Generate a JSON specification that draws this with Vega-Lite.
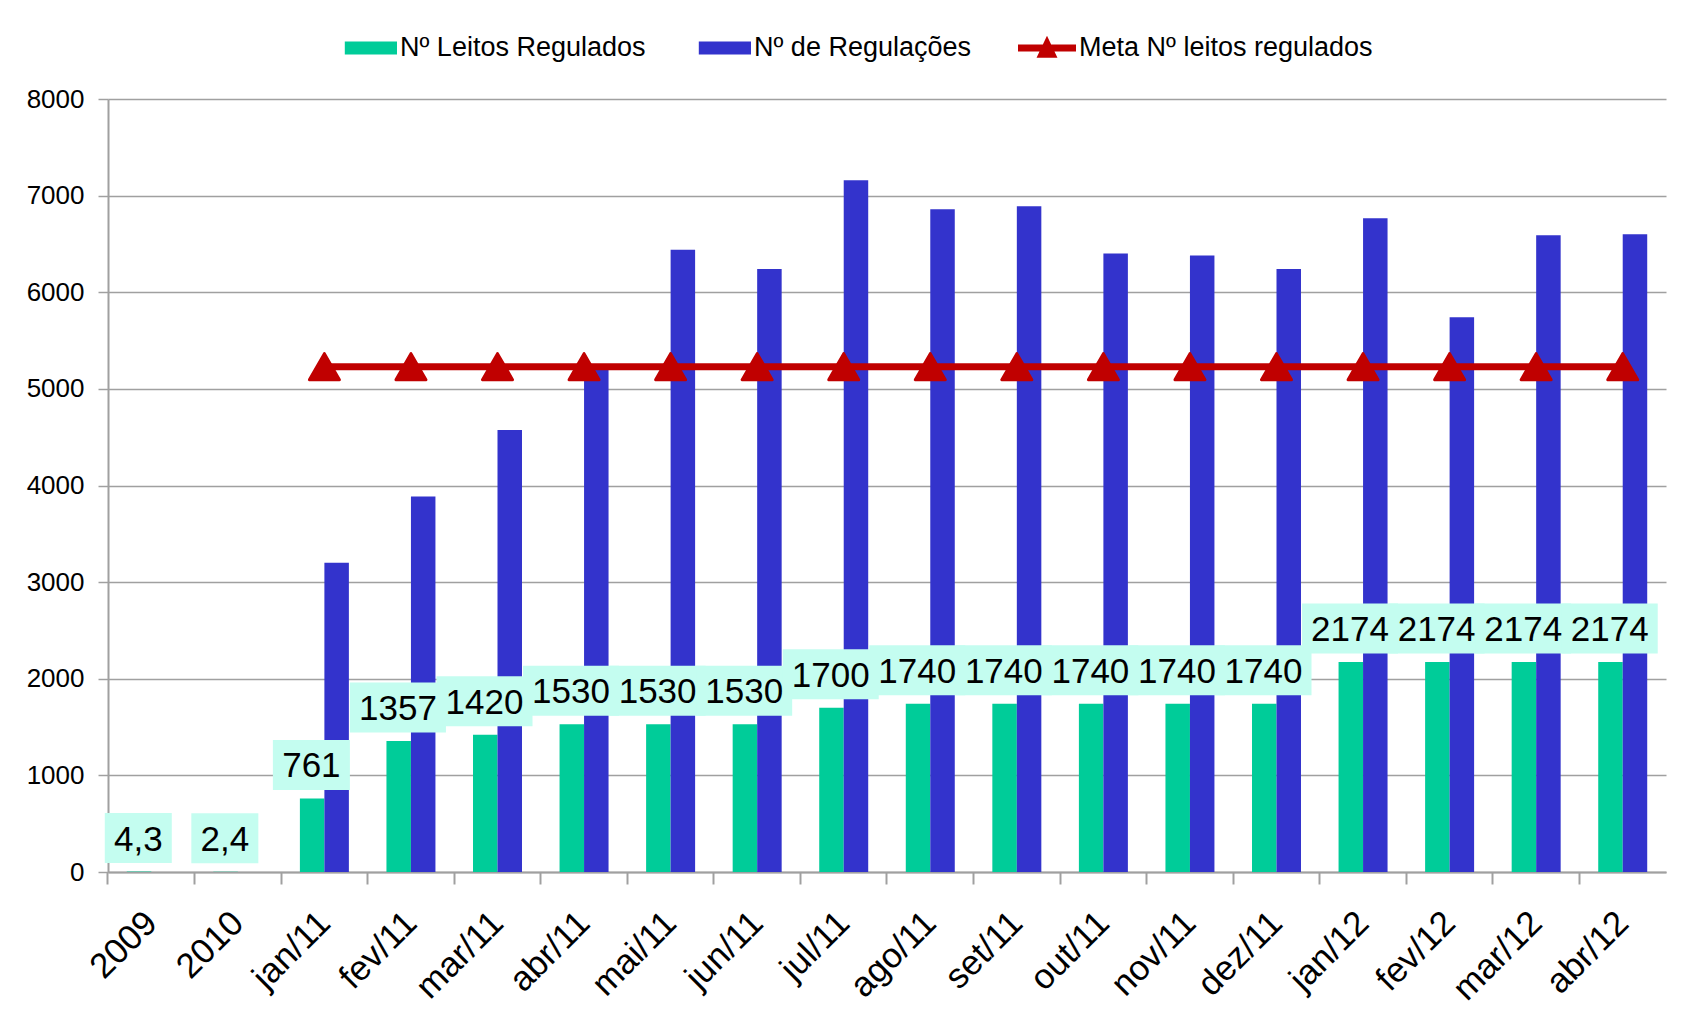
{
  "$schema": "https://vega.github.io/schema/vega-lite/v6.json",
  "width": 1558,
  "height": 773,
  "autosize": {"type": "none"},
  "padding": {"left": 108, "top": 99, "right": 17, "bottom": 150},
  "background": "white",
  "config": {
    "view": {"stroke": null},
    "font": "Liberation Sans",
    "locale": {"number": {"decimal": ",", "thousands": ".", "grouping": [3], "currency": ["R$", ""]}}
  },
  "data": {
    "values": [
      {"periodo": "2009", "leitos": 4.3, "regulacoes": null, "meta": null},
      {"periodo": "2010", "leitos": 2.4, "regulacoes": null, "meta": null},
      {"periodo": "jan/11", "leitos": 761, "regulacoes": 3200, "meta": 5230},
      {"periodo": "fev/11", "leitos": 1357, "regulacoes": 3885, "meta": 5230},
      {"periodo": "mar/11", "leitos": 1420, "regulacoes": 4575, "meta": 5230},
      {"periodo": "abr/11", "leitos": 1530, "regulacoes": 5230, "meta": 5230},
      {"periodo": "mai/11", "leitos": 1530, "regulacoes": 6440, "meta": 5230},
      {"periodo": "jun/11", "leitos": 1530, "regulacoes": 6240, "meta": 5230},
      {"periodo": "jul/11", "leitos": 1700, "regulacoes": 7160, "meta": 5230},
      {"periodo": "ago/11", "leitos": 1740, "regulacoes": 6860, "meta": 5230},
      {"periodo": "set/11", "leitos": 1740, "regulacoes": 6890, "meta": 5230},
      {"periodo": "out/11", "leitos": 1740, "regulacoes": 6400, "meta": 5230},
      {"periodo": "nov/11", "leitos": 1740, "regulacoes": 6380, "meta": 5230},
      {"periodo": "dez/11", "leitos": 1740, "regulacoes": 6240, "meta": 5230},
      {"periodo": "jan/12", "leitos": 2174, "regulacoes": 6765, "meta": 5230},
      {"periodo": "fev/12", "leitos": 2174, "regulacoes": 5740, "meta": 5230},
      {"periodo": "mar/12", "leitos": 2174, "regulacoes": 6590, "meta": 5230},
      {"periodo": "abr/12", "leitos": 2174, "regulacoes": 6600, "meta": 5230}
    ]
  },
  "resolve": {"axis": {"x": "independent"}},
  "layer": [
    {
      "transform": [{"fold": ["leitos", "regulacoes"], "as": ["serie", "valor"]}],
      "mark": {"type": "bar"},
      "encoding": {
        "x": {
          "field": "periodo", "type": "nominal", "sort": null,
          "scale": {
            "domain": ["2009", "2010", "jan/11", "fev/11", "mar/11", "abr/11", "mai/11", "jun/11", "jul/11", "ago/11", "set/11", "out/11", "nov/11", "dez/11", "jan/12", "fev/12", "mar/12", "abr/12"],
            "paddingInner": 0.434, "paddingOuter": 0.217
          },
          "axis": {
            "orient": "bottom", "title": null, "ticks": false, "tickSize": 0,
            "domain": true, "domainColor": "#a0a0a0", "domainWidth": 2,
            "labelAngle": -45, "labelAlign": "right", "labelBaseline": "middle",
            "labelFontSize": 35, "labelColor": "#000000", "labelPadding": 45, "labelFont": "Liberation Sans"
          }
        },
        "xOffset": {"field": "serie", "type": "nominal", "scale": {"domain": ["leitos", "regulacoes"], "paddingInner": 0, "paddingOuter": 0}},
        "y": {
          "field": "valor", "type": "quantitative", "title": null,
          "scale": {"domain": [0, 8000], "nice": false},
          "axis": {
            "values": [0, 1000, 2000, 3000, 4000, 5000, 6000, 7000, 8000],
            "format": "d", "grid": true, "gridColor": "#a0a0a0", "gridWidth": 1.5,
            "domainColor": "#a0a0a0", "domainWidth": 2, "tickColor": "#a0a0a0", "tickWidth": 1.5,
            "tickSize": 10, "labelPadding": 14, "labelFontSize": 26, "labelColor": "#000000", "labelFont": "Liberation Sans"
          }
        },
        "color": {
          "field": "serie", "type": "nominal",
          "scale": {"domain": ["leitos", "regulacoes", "meta"], "range": ["#00cc99", "#3333cc", "#c00000"]},
          "legend": {
            "orient": "none", "legendX": 231, "legendY": -80, "direction": "horizontal", "columns": 3,
            "title": null, "padding": 0, "columnPadding": 47, "labelOffset": 3, "labelLimit": 0,
            "labelFontSize": 27, "labelFont": "Liberation Sans", "labelColor": "#000000", "symbolSize": 3364,
            "labelExpr": "datum.value === 'leitos' ? 'Nº Leitos Regulados' : datum.value === 'regulacoes' ? 'Nº de Regulações' : 'Meta Nº leitos regulados'",
            "encode": {
              "symbols": {
                "update": {
                  "shape": {"signal": "datum.value === 'meta' ? 'M-1,-0.12H1V0.12H-1Z M-0.36,0.34L0,-0.42L0.36,0.34Z' : 'M-0.8,-0.22H1V0.22H-0.8Z'"},
                  "fill": {"scale": "color", "field": "value"},
                  "fillOpacity": {"value": 1},
                  "opacity": {"value": 1},
                  "stroke": {"value": "transparent"},
                  "strokeWidth": {"value": 0},
                  "size": {"value": 3364}
                }
              }
            }
          }
        }
      }
    },
    {
      "mark": {"type": "point", "filled": true, "opacity": 1, "fill": "#c4fdf0", "strokeWidth": 0, "xOffset": -13, "yOffset": -33.5, "size": 2500},
      "encoding": {
        "x": {
          "field": "periodo", "type": "nominal", "sort": null,
          "axis": {
            "orient": "bottom", "title": null, "labels": false, "domain": false, "grid": false,
            "ticks": true, "tickSize": 12, "tickColor": "#a0a0a0", "tickWidth": 2, "bandPosition": -0.3834
          }
        },
        "y": {"field": "leitos", "type": "quantitative", "title": null},
        "shape": {
          "condition": [
            {"test": "datum.leitos >= 1000", "value": "M-1.92,-1H1.92V1H-1.92Z"},
            {"test": "datum.leitos >= 100", "value": "M-1.54,-1H1.54V1H-1.54Z"}
          ],
          "value": "M-1.34,-1H1.34V1H-1.34Z"
        }
      }
    },
    {
      "mark": {"type": "text", "fontSize": 35, "font": "Liberation Sans", "color": "#000000", "align": "center", "baseline": "middle", "xOffset": -13, "yOffset": -32},
      "encoding": {
        "x": {"field": "periodo", "type": "nominal", "sort": null, "axis": null},
        "y": {"field": "leitos", "type": "quantitative", "title": null},
        "text": {"field": "leitos", "type": "quantitative", "format": "~g"}
      }
    },
    {
      "transform": [{"filter": "datum.meta != null"}],
      "mark": {"type": "line", "strokeWidth": 7},
      "encoding": {
        "x": {"field": "periodo", "type": "nominal", "sort": null, "axis": null},
        "y": {"field": "meta", "type": "quantitative", "title": null},
        "color": {"datum": "meta"}
      }
    },
    {
      "transform": [{"filter": "datum.meta != null"}],
      "mark": {"type": "point", "shape": "triangle-up", "size": 900, "filled": true, "opacity": 1, "stroke": "#c00000", "strokeWidth": 3, "strokeJoin": "round"},
      "encoding": {
        "x": {"field": "periodo", "type": "nominal", "sort": null, "axis": null},
        "y": {"field": "meta", "type": "quantitative", "title": null},
        "color": {"datum": "meta"}
      }
    }
  ]
}
